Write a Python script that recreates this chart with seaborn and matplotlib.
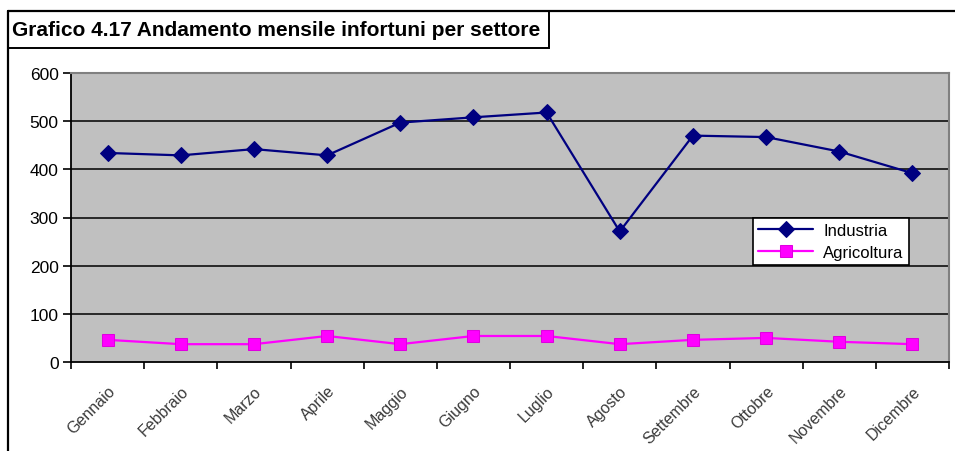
import numpy as np
import pandas as pd
import matplotlib.pyplot as plt
import seaborn as sns
from matplotlib.patches import Rectangle
from matplotlib.lines import Line2D

sns.set_theme(style="white")
plt.rcParams['font.family'] = ['Liberation Sans', 'DejaVu Sans']
plt.rcParams.update({'text.color': 'black', 'xtick.color': 'black',
                     'ytick.color': 'black', 'axes.labelcolor': 'black'})

mesi = ["Gennaio", "Febbraio", "Marzo", "Aprile", "Maggio", "Giugno",
        "Luglio", "Agosto", "Settembre", "Ottobre", "Novembre", "Dicembre"]
industria = [434, 429, 442, 429, 497, 508, 518, 271, 470, 467, 437, 392]
agricoltura = [46, 37, 37, 54, 37, 54, 54, 37, 46, 50, 42, 37]

df = pd.DataFrame({"pos": np.arange(len(mesi)), "Mese": mesi,
                   "Industria": industria, "Agricoltura": agricoltura})

fig = plt.figure(figsize=(9.55, 4.52), dpi=100)
ax = fig.add_axes([71 / 955, 89 / 452, 878 / 955, 289 / 452])
ax.set_facecolor("#C0C0C0")

for v in range(100, 600, 100):
    ax.axhline(v, color="black", linewidth=1.1, zorder=1)

sns.lineplot(data=df, x="pos", y="Industria", ax=ax, color="#000080",
             linewidth=1.6, marker="D", markersize=8.5, markeredgecolor="#000080",
             label="Industria", zorder=3)
sns.lineplot(data=df, x="pos", y="Agricoltura", ax=ax, color="#FF00FF",
             linewidth=1.6, marker="s", markersize=8.5, markeredgecolor="#E000E0",
             label="Agricoltura", zorder=3)

ax.set_xlim(-0.5, len(mesi) - 0.5)
ax.set_ylim(0, 600)
ax.set_yticks(range(0, 700, 100))
ax.set_xticks(df["pos"])
ax.set_xticklabels(mesi, rotation=45, ha="right", rotation_mode="anchor",
                   fontsize=11.5, color="#3a3a3a")
ax.set_xticks(np.arange(-0.5, len(mesi), 1), minor=True)
ax.tick_params(axis="x", which="major", length=0, pad=15)
ax.tick_params(axis="x", which="minor", length=5, width=1.2, color="black",
               direction="out", bottom=True)
ax.tick_params(axis="y", length=6, width=1.2, color="black", direction="out",
               labelsize=12.5, left=True, pad=3)
ax.set_xlabel("")
ax.set_ylabel("")

for s in ["left", "bottom"]:
    ax.spines[s].set_color("black")
    ax.spines[s].set_linewidth(1.3)
for s in ["top", "right"]:
    ax.spines[s].set_color("#808080")
    ax.spines[s].set_linewidth(1.5)

leg = ax.legend(loc="lower left", bbox_to_anchor=(0.777, 0.335), fontsize=12,
                frameon=True, fancybox=False, framealpha=1, edgecolor="black",
                borderpad=0.3, handlelength=3.3, labelspacing=0.45,
                handletextpad=0.6, borderaxespad=0)
leg.get_frame().set_linewidth(1.2)

# cornice esterna e riquadro del titolo
fig.add_artist(Line2D([8 / 955, 8 / 955], [0, 1 - 12 / 452], color="black",
                      linewidth=1.6, transform=fig.transFigure))
fig.add_artist(Line2D([8 / 955, 1], [1 - 12 / 452, 1 - 12 / 452], color="black",
                      linewidth=1.6, transform=fig.transFigure))
fig.add_artist(Rectangle((8 / 955, 1 - 49 / 452), 541 / 955, 37 / 452,
                         facecolor="white", edgecolor="black", linewidth=1.4,
                         transform=fig.transFigure))
fig.text(12 / 955, 1 - 31 / 452, "Grafico 4.17 Andamento mensile infortuni per settore",
         fontsize=15, fontweight="bold", va="center", ha="left")

fig.savefig("out.png", dpi=100)
